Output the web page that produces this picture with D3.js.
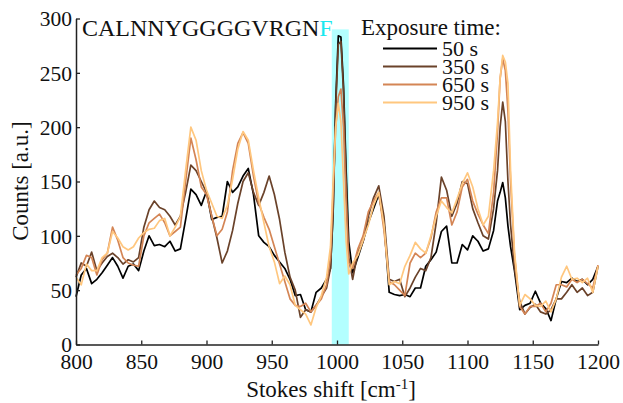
<!DOCTYPE html>
<html>
<head>
<meta charset="utf-8">
<script src="https://cdn.jsdelivr.net/npm/d3@7"></script>
<style>
  html, body { margin: 0; padding: 0; background: #fff; }
  svg { display: block; }
  .serif { font-family: "Liberation Serif"; fill: #111; }
</style>
</head>
<body>
<svg id="chart" width="623" height="403"></svg>
<script>
// Raman shift axis (cm^-1), shared by all spectra
const shift = [
  800,804,808,812,816,820,824,828,832,836,840,844,848,852,856,860,864,868,872,876,
  880,884,888,892,896,900,904,908,912,916,920,924,928,932,936,940,944,948,952,956,
  960,964,968,972,976,980,984,988,992,
  995,997,999,1001,1003,1005,1007,1009,
  1012,1016,1020,1024,1028,1032,1036,1040,1044,1048,1052,1056,1060,1064,1068,1072,
  1076,1080,1084,1088,1092,1096,1100,1104,1108,1112,1116,1120,
  1123,1125,1127,1129,1131,1133,1136,
  1140,1144,1148,1152,1156,1160,1164,1168,1172,1176,1180,1184,1188,1192,1196,1200
];

// Counts for each exposure time
const counts50 = [
  44,64,70,56,60,66,73,80,72,61,72,74,68,86,100,91,92,90,95,86,
  88,115,143,138,128,141,115,117,118,150,140,145,155,162,138,100,94,90,82,76,
  70,60,45,46,32,30,48,52,60,
  70,121,223,284,283,238,160,95,
  66,80,95,112,125,138,112,48,46,45,46,44,52,52,72,78,
  85,104,109,75,75,92,87,100,95,86,88,105,
  132,140,149,135,109,90,68,
  32,36,38,49,38,33,22,42,58,57,61,58,60,55,60,72
];
const counts350 = [
  62,75,72,85,68,75,81,84,80,74,78,76,80,108,124,132,126,124,118,110,
  118,140,165,160,150,140,118,98,75,86,105,130,150,158,140,128,140,155,138,115,
  85,62,50,25,32,30,36,44,52,
  70,120,218,276,279,232,150,80,
  60,85,95,118,135,146,118,60,58,60,44,52,62,70,68,80,
  112,154,142,118,130,150,148,125,112,100,97,125,
  160,200,223,205,150,110,70,
  40,28,34,37,30,28,32,42,42,48,55,48,52,45,48,72
];
const counts650 = [
  64,70,82,80,64,78,84,108,96,80,75,73,72,100,112,116,120,112,100,104,
  108,150,190,170,145,138,118,100,106,122,160,185,195,185,155,130,117,106,90,74,
  58,42,36,35,38,30,36,42,55,
  80,140,200,228,235,200,130,75,
  70,88,100,122,132,140,105,58,55,50,45,75,84,80,84,98,
  122,135,135,110,122,145,152,132,120,110,102,140,
  195,245,263,252,215,150,82,
  35,28,35,35,38,30,38,55,55,53,60,57,60,56,52,73
];
const counts950 = [
  62,55,74,68,68,80,84,104,98,90,87,90,98,103,106,107,114,116,100,108,
  118,160,200,188,160,142,130,118,116,128,152,180,196,188,160,135,112,90,76,56,
  63,55,36,32,28,18,34,45,62,
  90,150,200,222,205,150,95,65,
  75,82,96,110,128,140,110,55,58,56,72,82,94,88,84,100,
  118,132,126,121,134,148,158,145,125,110,118,160,
  204,245,266,260,240,160,85,
  36,46,42,36,35,40,30,42,62,72,60,61,57,61,48,72
];

const exposures = ["50 s", "350 s", "650 s", "950 s"];
const seriesValues = [counts50, counts350, counts650, counts950];
const seriesColors = ["#000000", "#6a422a", "#d48555", "#ffc77f"];

const xTicks = [800, 850, 900, 950, 1000, 1050, 1100, 1150, 1200];
const yTicks = [0, 50, 100, 150, 200, 250, 300];

// Highlighted band around the phenylalanine ring-breathing peak
const bandRange = [996, 1009];
const bandTop = 290;

const peptide = "CALNNYGGGGVRGN";
const highlightResidue = "F";

const FONT = "Liberation Serif";
const svg = d3.select("#chart");
const x = d3.scaleLinear().domain([800, 1200]).range([76, 598]);
const y = d3.scaleLinear().domain([0, 300]).range([344.5, 18.5]);

// highlight band
svg.append("rect")
  .attr("x", x(bandRange[0]))
  .attr("y", y(bandTop))
  .attr("width", x(bandRange[1]) - x(bandRange[0]))
  .attr("height", y(0) - y(bandTop))
  .attr("fill", "#b3ffff");

// spectra
const line = d3.line().x((d, i) => x(shift[i])).y(d => y(d));
svg.append("g").selectAll("path")
  .data(seriesValues)
  .join("path")
  .attr("d", d => line(d))
  .attr("fill", "none")
  .attr("stroke", (d, i) => seriesColors[i])
  .attr("stroke-width", 1.7)
  .attr("stroke-linejoin", "round");

// axes with inward ticks
const xAxis = svg.append("g")
  .attr("transform", `translate(0,${y(0)})`)
  .call(d3.axisBottom(x).tickValues(xTicks).tickFormat(d3.format("d"))
    .tickSize(-4).tickPadding(9).tickSizeOuter(0));
const yAxis = svg.append("g")
  .attr("transform", `translate(${x(800)},0)`)
  .call(d3.axisLeft(y).tickValues(yTicks).tickFormat(d3.format("d"))
    .tickSize(-4).tickPadding(4).tickSizeOuter(0));

[xAxis, yAxis].forEach(g => {
  g.attr("font-family", FONT);
  g.select(".domain").attr("stroke", "#222").attr("stroke-width", 1.5);
  g.selectAll(".tick line").attr("stroke", "#222").attr("stroke-width", 1.3);
  g.selectAll(".tick text")
    .attr("class", "serif")
    .style("font-family", FONT)
    .style("font-size", "21.5px")
    .attr("fill", "#111");
});
yAxis.selectAll(".tick text").attr("dy", "0.34em");

// axis titles
const xTitle = svg.append("text")
  .attr("class", "serif")
  .attr("x", 331).attr("y", 397)
  .attr("text-anchor", "middle")
  .style("font-size", "23px");
xTitle.append("tspan").text("Stokes shift [cm");
xTitle.append("tspan").attr("dy", -8).style("font-size", "15px").text("-1");
xTitle.append("tspan").attr("dy", 8).text("]");

svg.append("text")
  .attr("class", "serif")
  .attr("transform", "translate(28,181) rotate(-90)")
  .attr("text-anchor", "middle")
  .style("font-size", "23px")
  .text("Counts [a.u.]");

// peptide sequence
const title = svg.append("text")
  .attr("class", "serif")
  .attr("x", 82).attr("y", 36)
  .style("font-size", "24px");
title.append("tspan").text(peptide);
title.append("tspan").style("fill", "#19e8ef").text(highlightResidue);

// legend
svg.append("text")
  .attr("class", "serif")
  .attr("x", 361).attr("y", 35)
  .style("font-size", "23px")
  .text("Exposure time:");

const legend = svg.append("g").selectAll("g")
  .data(exposures)
  .join("g")
  .attr("transform", (d, i) => `translate(0,${48.5 + i * 18})`);
legend.append("line")
  .attr("x1", 383).attr("x2", 437)
  .attr("stroke", (d, i) => seriesColors[i])
  .attr("stroke-width", 2.2);
legend.append("text")
  .attr("class", "serif")
  .attr("x", 442).attr("y", 7)
  .style("font-size", "22px")
  .text(d => d);
</script>
</body>
</html>
